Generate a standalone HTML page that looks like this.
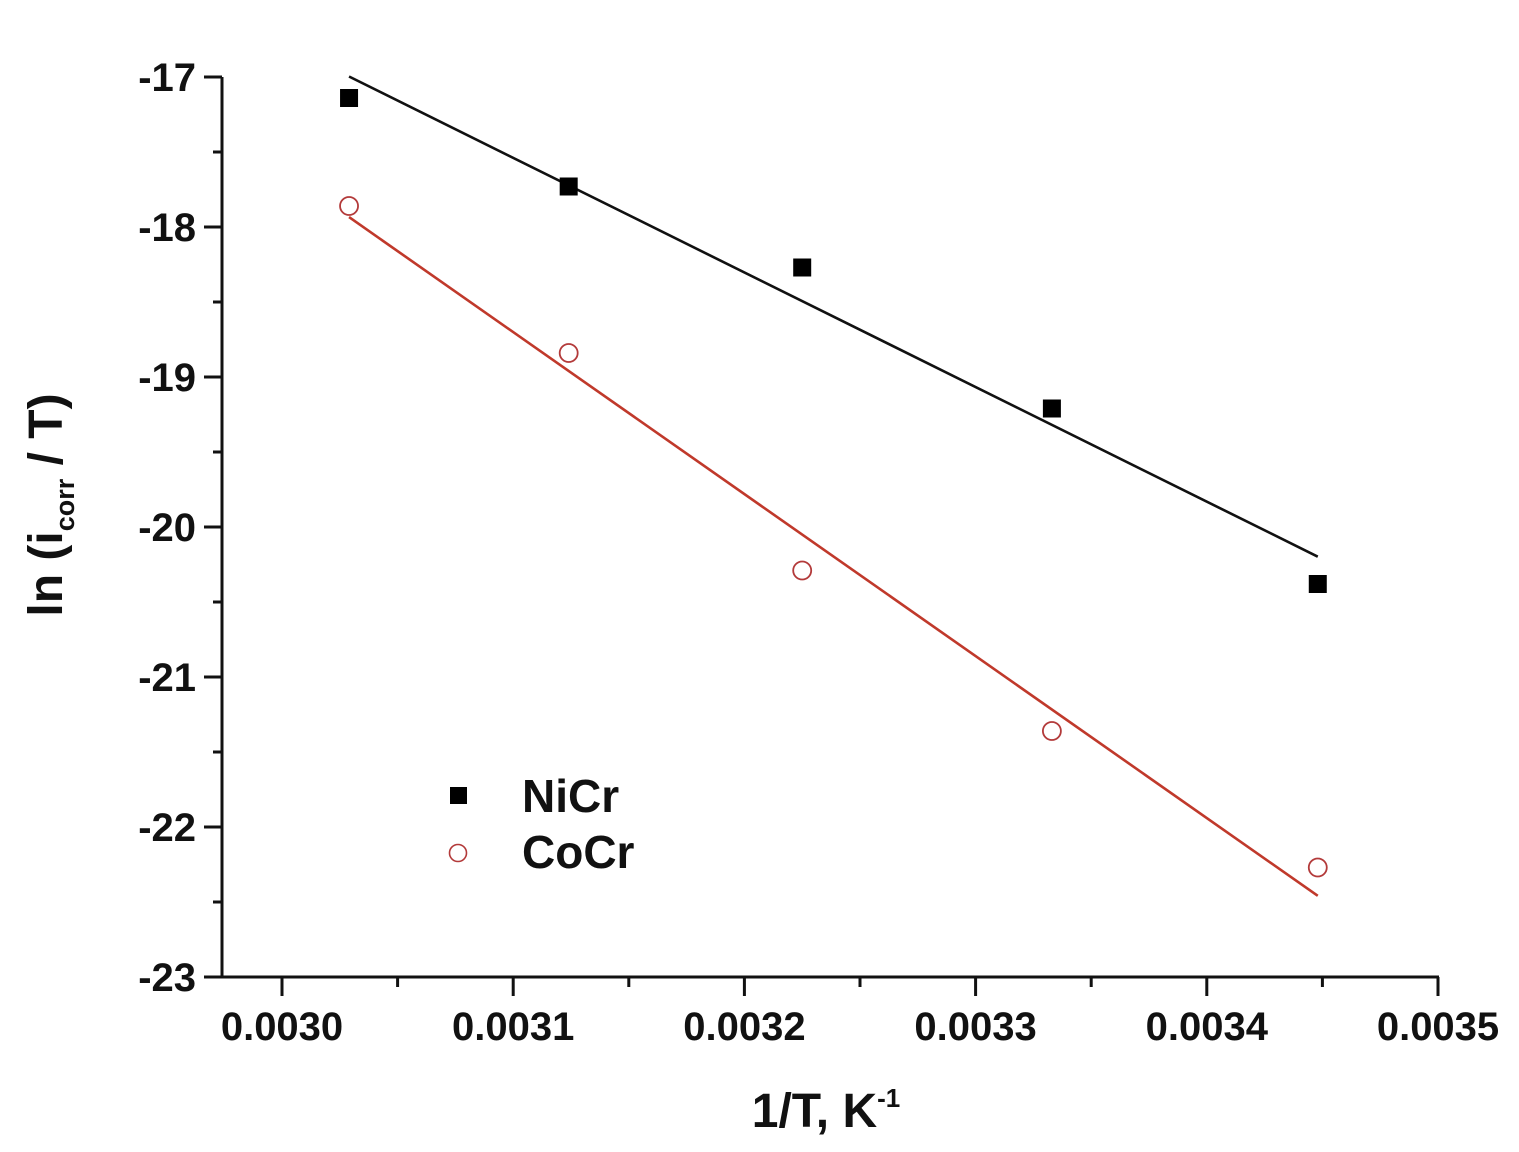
<!DOCTYPE html>
<html><head><meta charset="utf-8"><style>
html,body{margin:0;padding:0;background:#fff}
svg{display:block}
text{font-family:"Liberation Sans",Arial,sans-serif;font-weight:bold;fill:#111}
</style></head><body>
<svg id="chart" width="1519" height="1152" viewBox="0 0 1519 1152">
<g id="axes"></g>
<g id="marks"></g>
<text x="826" y="1127" font-size="48" text-anchor="middle">1/T, K<tspan dy="-20" font-size="26">-1</tspan></text>
<text transform="translate(62,505) rotate(-90)" font-size="48" text-anchor="middle">ln (i<tspan dy="12" font-size="27">corr</tspan><tspan dy="-12"> / T)</tspan></text>
<g>
<rect x="450" y="787" width="17" height="17" fill="#000"></rect>
<text x="522" y="812" font-size="46">NiCr</text>
<circle cx="458" cy="853" r="8.5" fill="none" stroke="#b33a3a" stroke-width="1.6"></circle>
<text x="522" y="868" font-size="46">CoCr</text>
</g>
</svg>
<script>
const xValues = [0.003029, 0.003124, 0.003225, 0.003333, 0.003448];
const nicrValues = [-17.14, -17.73, -18.27, -19.21, -20.38];
const cocrValues = [-17.86, -18.84, -20.29, -21.36, -22.27];
const xTicks = [0.0030, 0.0031, 0.0032, 0.0033, 0.0034, 0.0035];
const xTickLabels = ["0.0030","0.0031","0.0032","0.0033","0.0034","0.0035"];
const yTicks = [-17, -18, -19, -20, -21, -22, -23];
const yTickLabels = ["-17","-18","-19","-20","-21","-22","-23"];

const NS = "http://www.w3.org/2000/svg";
const X0 = 282, XS = 231.2 / 0.0001, Y0 = 77, YS = 150;
function xs(v){ return X0 + (v - 0.0030) * XS; }
function ys(v){ return Y0 + (-17 - v) * YS; }
function mk(tag, attrs, parent){
  const e = document.createElementNS(NS, tag);
  for (const k in attrs) e.setAttribute(k, attrs[k]);
  parent.appendChild(e); return e;
}
const axes = document.getElementById("axes");
const marks = document.getElementById("marks");
const ax = mk("line",{x1:222,y1:ys(-23),x2:222,y2:ys(-17),stroke:"#111","stroke-width":3},axes);


const bx = mk("line",{x1:206,y1:ys(-23),x2:xs(0.0035)+1,y2:ys(-23),stroke:"#111","stroke-width":3},axes);


xTicks.forEach((t,i)=>{
  const x = xs(t);
  const l = mk("line",{x1:x,y1:ys(-23),x2:x,y2:ys(-23)+19,stroke:"#111","stroke-width":3},axes);
  
  
  const tx = mk("text",{x:x,y:1040,"font-size":40,"text-anchor":"middle"},axes);
  tx.textContent = xTickLabels[i];
  
  
  if (i < xTicks.length-1){
    const mx = xs(t+0.00005);
    const m = mk("line",{x1:mx,y1:ys(-23),x2:mx,y2:ys(-23)+10,stroke:"#111","stroke-width":3},axes);
    
    
  }
});
yTicks.forEach((t,i)=>{
  const y = ys(t);
  const l = mk("line",{x1:204,y1:y,x2:222,y2:y,stroke:"#111","stroke-width":3},axes);
  
  
  const tx = mk("text",{x:196,y:y+14,"font-size":40,"text-anchor":"end"},axes);
  tx.textContent = yTickLabels[i];
  
  
  if (i < yTicks.length-1){
    const m = mk("line",{x1:213,y1:ys(t-0.5),x2:222,y2:ys(t-0.5),stroke:"#111","stroke-width":3},axes);
    
    
  }
});
function fit(xv, yv){
  const n = xv.length; let sx=0,sy=0,sxx=0,sxy=0;
  for(let i=0;i<n;i++){sx+=xv[i];sy+=yv[i];sxx+=xv[i]*xv[i];sxy+=xv[i]*yv[i];}
  const b=(n*sxy-sx*sy)/(n*sxx-sx*sx); const a=(sy-b*sx)/n; return [a,b];
}
function fitLine(vals, color, name){
  const [a,b] = fit(xValues, vals);
  const x1 = xValues[0], x2 = xValues[xValues.length-1];
  const l = mk("line",{x1:xs(x1),y1:ys(a+b*x1),x2:xs(x2),y2:ys(a+b*x2),stroke:color,"stroke-width":2.6},marks);
  
  
}
fitLine(nicrValues,"#111","nicr-fit-line");
fitLine(cocrValues,"#c0392b","cocr-fit-line");
nicrValues.forEach((v,i)=>{
  const r = mk("rect",{x:xs(xValues[i])-9,y:ys(v)-9,width:18,height:18,fill:"#000"},marks);
  
  
});
cocrValues.forEach((v,i)=>{
  const c = mk("circle",{cx:xs(xValues[i]),cy:ys(v),r:9,fill:"#fff",stroke:"#b33a3a","stroke-width":1.8},marks);
  
  
});
</script>
</body></html>
